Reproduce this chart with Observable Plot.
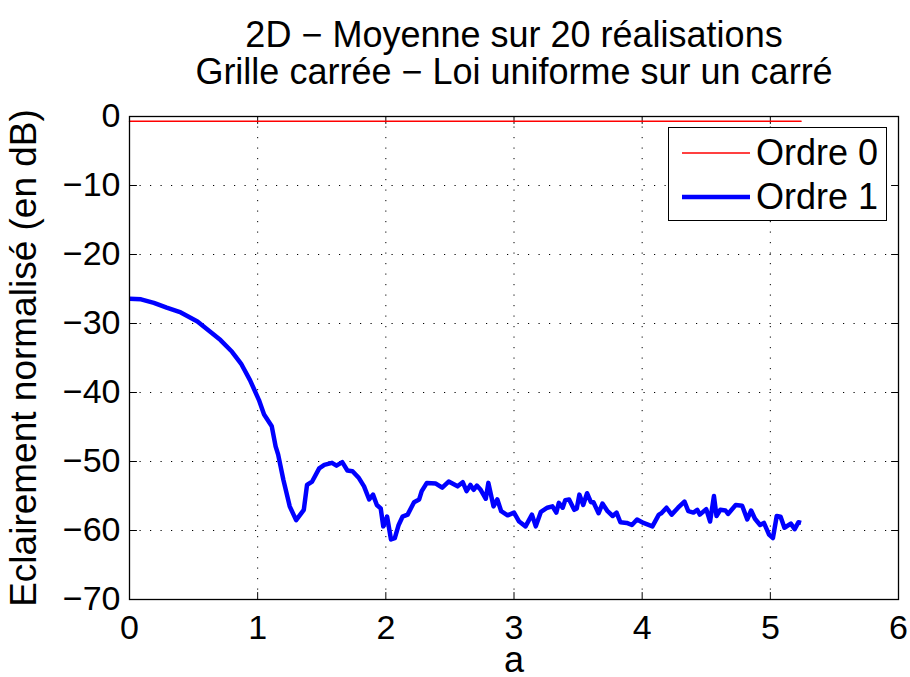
<!DOCTYPE html>
<html>
<head>
<meta charset="utf-8">
<script src="https://cdn.jsdelivr.net/npm/d3@7"></script>
<script src="https://cdn.jsdelivr.net/npm/@observablehq/plot@0.6"></script>
<style>
  html, body { margin: 0; padding: 0; background: #fff; }
  #wrap { position: relative; width: 910px; height: 677px; font-family: "Liberation Sans", Arial, sans-serif; color: #000; }
  #legend { position: absolute; left: 668px; top: 127px; width: 219px; height: 94px; border: 1px solid #000; background: #fff; box-sizing: border-box; }
  .lrow { position: absolute; left: 0; height: 40px; width: 100%; }
  .lrow svg { position: absolute; left: 13px; top: 0; }
  .lrow span { position: absolute; left: 87px; top: 0; line-height: 40px; font-size: 36px; white-space: nowrap; }
</style>
</head>
<body>
<div id="wrap"></div>
<script>
// ---- data ----
const titleLines = ["2D \u2212 Moyenne sur 20 réalisations", "Grille carrée \u2212 Loi uniforme sur un carré"];
const xLabel = "a";
const yLabel = "Eclairement normalisé (en dB)";
const xTicks = [0, 1, 2, 3, 4, 5, 6];
const yTicks = [-70, -60, -50, -40, -30, -20, -10, 0];
const seriesNames = ["Ordre 0", "Ordre 1"];
const seriesColors = ["#ff0000", "#0000ff"];
const seriesWidths = [1.5, 4.5];

const order0A = [0, 1, 2, 3, 4, 5, 5.24];
const order0Db = [-0.7, -0.7, -0.7, -0.7, -0.7, -0.7, -0.7];

const order1A = [0.00,0.09,0.19,0.29,0.40,0.53,0.63,0.71,0.80,0.87,0.94,1.01,1.05,1.11,1.14,1.16,1.20,1.25,1.30,1.36,
1.385,1.425,1.48,1.52,1.58,1.615,1.66,1.70,1.74,1.79,1.83,1.87,1.90,1.93,1.96,1.98,2.01,2.04,2.07,2.10,
2.13,2.17,2.22,2.26,2.28,2.32,2.39,2.44,2.49,2.56,2.60,2.63,2.66,2.685,2.71,2.74,2.78,2.80,2.84,2.87,
2.90,2.95,3.00,3.04,3.09,3.14,3.17,3.21,3.26,3.30,3.33,3.35,3.38,3.40,3.43,3.47,3.49,3.51,3.54,3.57,
3.60,3.62,3.66,3.69,3.73,3.77,3.80,3.83,3.88,3.92,3.96,4.01,4.08,4.13,4.15,4.19,4.23,4.28,4.33,4.36,
4.40,4.43,4.45,4.50,4.53,4.56,4.58,4.61,4.65,4.67,4.73,4.78,4.82,4.85,4.88,4.92,4.95,4.99,5.02,5.05,
5.08,5.11,5.16,5.19,5.22,5.24];
const order1Db = [-26.4,-26.5,-27.0,-27.7,-28.4,-29.7,-31.2,-32.4,-34.1,-35.8,-38.2,-41.1,-43.2,-44.9,-47.8,-49.0,-52.6,-56.5,-58.5,-57.0,
-53.4,-52.9,-51.0,-50.5,-50.2,-50.6,-50.1,-51.3,-51.4,-52.4,-53.6,-55.5,-54.8,-56.3,-56.8,-59.4,-58.0,-61.3,-61.1,-59.2,
-58.0,-57.7,-55.9,-55.5,-54.3,-53.1,-53.2,-53.8,-52.9,-53.6,-53.0,-54.3,-53.4,-54.1,-53.5,-54.1,-55.4,-53.1,-56.5,-55.5,
-57.2,-57.8,-57.4,-58.7,-59.4,-57.7,-59.4,-57.3,-56.7,-56.5,-57.4,-56.0,-56.7,-55.6,-55.5,-57.0,-56.8,-54.8,-56.3,-54.6,
-55.9,-55.9,-57.5,-56.1,-57.2,-57.9,-57.4,-58.8,-58.9,-59.2,-58.4,-58.9,-59.4,-57.7,-57.5,-56.7,-57.7,-56.7,-55.8,-57.2,
-57.4,-57.0,-57.7,-56.9,-58.7,-55.0,-57.9,-57.0,-57.1,-57.6,-56.3,-56.4,-58.4,-57.1,-58.3,-59.2,-58.9,-60.6,-61.1,-57.9,
-58.0,-59.6,-59.0,-59.8,-58.8,-58.9];

// ---- build ----
const order0 = order0A.map((a, i) => ({a, db: order0Db[i]}));
const order1 = order1A.map((a, i) => ({a, db: order1Db[i]}));
const tickShape = {draw(context, l) { context.moveTo(0, 0); context.lineTo(0, -l); }};
const font = "'Liberation Sans', Arial, sans-serif";
const innerX = xTicks.slice(1, -1);
const innerY = yTicks.slice(1, -1);
const fmt = d3.format("d");

const chart = Plot.plot({
  width: 910,
  height: 677,
  marginLeft: 129,
  marginRight: 12,
  marginTop: 116,
  marginBottom: 78,
  style: {fontFamily: font, color: "#000", background: "#fff", overflow: "visible"},
  x: {domain: [0, 6], ticks: xTicks},
  y: {domain: [-70, 0], ticks: yTicks},
  marks: [
    Plot.gridX(innerX, {stroke: "#000", strokeOpacity: 1, strokeWidth: 1, strokeDasharray: "1.2,9.3"}),
    Plot.gridY(innerY, {stroke: "#000", strokeOpacity: 1, strokeWidth: 1, strokeDasharray: "1.2,9.3"}),
    Plot.vector(xTicks, {x: d => d, frameAnchor: "bottom", length: 7, rotate: 0, anchor: "start", shape: tickShape, stroke: "#000", strokeWidth: 1}),
    Plot.vector(xTicks, {x: d => d, frameAnchor: "top", length: 7, rotate: 180, anchor: "start", shape: tickShape, stroke: "#000", strokeWidth: 1}),
    Plot.vector(yTicks, {y: d => d, frameAnchor: "left", length: 7, rotate: 90, anchor: "start", shape: tickShape, stroke: "#000", strokeWidth: 1}),
    Plot.vector(yTicks, {y: d => d, frameAnchor: "right", length: 7, rotate: -90, anchor: "start", shape: tickShape, stroke: "#000", strokeWidth: 1}),
    Plot.line(order0, {x: "a", y: "db", stroke: seriesColors[0], strokeWidth: seriesWidths[0]}),
    Plot.line(order1, {x: "a", y: "db", stroke: seriesColors[1], strokeWidth: seriesWidths[1], strokeLinejoin: "round", strokeLinecap: "butt"}),
    Plot.frame({stroke: "#000", strokeWidth: 1.3}),
    Plot.axisX(xTicks, {tickSize: 0, tickPadding: 15, fontSize: 34, label: null, fill: "#000", tickFormat: fmt}),
    Plot.axisY(yTicks, {tickSize: 0, tickPadding: 9, fontSize: 34, label: null, fill: "#000", tickFormat: fmt}),
    Plot.text([xLabel], {frameAnchor: "bottom", dy: 72, fontSize: 36, lineAnchor: "bottom", fill: "#000"}),
    Plot.text([yLabel], {frameAnchor: "left", dx: -94, rotate: -90, fontSize: 37, textAnchor: "middle", lineAnchor: "bottom", fill: "#000"}),
    Plot.text([titleLines[0]], {frameAnchor: "top", dy: -70, fontSize: 36, lineAnchor: "bottom", fill: "#000"}),
    Plot.text([titleLines[1]], {frameAnchor: "top", dy: -33, fontSize: 36, lineAnchor: "bottom", fill: "#000"})
  ]
});

const wrap = document.getElementById("wrap");
wrap.appendChild(chart);

// legend
const legend = document.createElement("div");
legend.id = "legend";
const rowTops = [5, 49];
seriesNames.forEach((name, i) => {
  const row = document.createElement("div");
  row.className = "lrow";
  row.style.top = rowTops[i] + "px";
  const svg = d3.create("svg").attr("width", 68).attr("height", 40);
  svg.append("line").attr("x1", 0).attr("x2", 68).attr("y1", 20).attr("y2", 20)
    .attr("stroke", seriesColors[i]).attr("stroke-width", seriesWidths[i]);
  row.appendChild(svg.node());
  const span = document.createElement("span");
  span.textContent = name;
  row.appendChild(span);
  legend.appendChild(row);
});
wrap.appendChild(legend);
</script>
</body>
</html>
